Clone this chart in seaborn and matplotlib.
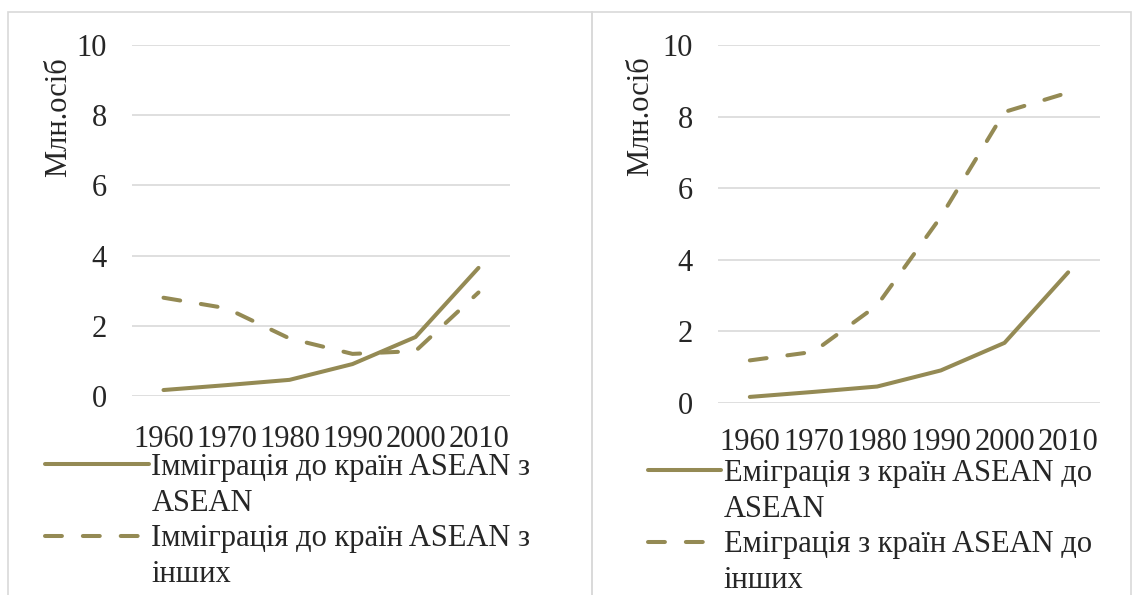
import numpy as np
import pandas as pd
import matplotlib
matplotlib.use('Agg')
import matplotlib.pyplot as plt
import seaborn as sns
from matplotlib.patches import Rectangle
from matplotlib.lines import Line2D

years = ['1960', '1970', '1980', '1990', '2000', '2010']
intra_asean = [0.17, 0.31, 0.46, 0.91, 1.68, 3.65]
imm_other = [2.80, 2.50, 1.64, 1.20, 1.28, 2.95]
emi_other = [1.19, 1.43, 2.73, 5.20, 8.13, 8.67]

# series names, each split over two legend rows as in the source
imm_labels = [('Імміграція до країн ASEAN з', 'ASEAN'), ('Імміграція до країн ASEAN з', 'інших')]
emi_labels = [('Еміграція з країн ASEAN до', 'ASEAN'), ('Еміграція з країн ASEAN до', 'інших')]
y_label = 'Млн.осіб'
y_ticks = [0, 2, 4, 6, 8, 10]

olive = '#948A54'
grid_gray = '#D9D9D9'
fs = 22

sns.set_style('white')
plt.rcParams['font.family'] = ['Liberation Serif', 'DejaVu Serif']

W, H = 1137, 595
fig = plt.figure(figsize=(W / 100, H / 100), dpi=100)


def px_box(x0, x1, ytop, ybot):
    return [x0 / W, 1 - ybot / H, (x1 - x0) / W, (ybot - ytop) / H]


# panel frames
for x0, x1 in [(8, 592), (592, 1131)]:
    fig.add_artist(Rectangle((x0 / W, -0.1), (x1 - x0) / W, 1.1 - 12 / H,
                             transform=fig.transFigure, fill=False,
                             edgecolor=grid_gray, lw=1.2))


def draw_panel(box, first, second, labels, label_xy, leg_anchor, handlelen, xpad):
    ax = fig.add_axes(box)
    names = [' '.join(l) for l in labels]
    df = pd.DataFrame({
        'year': years * 2,
        'value': first + second,
        'series': [names[0]] * len(years) + [names[1]] * len(years),
    })
    sns.lineplot(data=df, x='year', y='value', style='series', style_order=names,
                 dashes=['', (4.2, 5.2)], color=olive, lw=2.9, legend=False,
                 ax=ax, clip_on=False)
    for ln in ax.get_lines():
        ln.set_dash_capstyle('round')
        ln.set_solid_capstyle('round')
    ax.set_ylim(0, 10)
    ax.set_xlim(-0.5, len(years) - 0.5)
    ax.set_yticks(y_ticks)
    ax.yaxis.grid(True, color=grid_gray, lw=1.2)
    ax.xaxis.grid(False)
    sns.despine(ax=ax, left=True, bottom=True)
    ax.tick_params(axis='y', length=0, pad=18, labelsize=fs)
    ax.tick_params(axis='x', length=0, pad=xpad, labelsize=fs)
    ax.set_xlabel('')
    ax.set_ylabel(y_label, fontsize=fs)
    ax.yaxis.set_label_coords(*label_xy)

    lines = ax.get_lines()[:2]
    blank = Line2D([], [], color='none')
    handles = [lines[0], blank, lines[1], blank]
    texts = [labels[0][0], labels[0][1], labels[1][0], labels[1][1]]
    ax.legend(handles, texts, loc='upper left',
              bbox_to_anchor=(leg_anchor[0] / W, 1 - leg_anchor[1] / H),
              bbox_transform=fig.transFigure, frameon=False, fontsize=fs,
              handlelength=handlelen, handletextpad=0.08, borderpad=0,
              borderaxespad=0, labelspacing=0.22)
    return ax


draw_panel(px_box(132, 510, 45, 396), intra_asean, imm_other, imm_labels,
           (-0.156, 0.795), (45, 453), 3.4, 21)
draw_panel(px_box(718, 1100, 45, 403), intra_asean, emi_other, emi_labels,
           (-0.165, 0.80), (648, 459), 2.4, 18)

fig.savefig('out.png', dpi=100)
